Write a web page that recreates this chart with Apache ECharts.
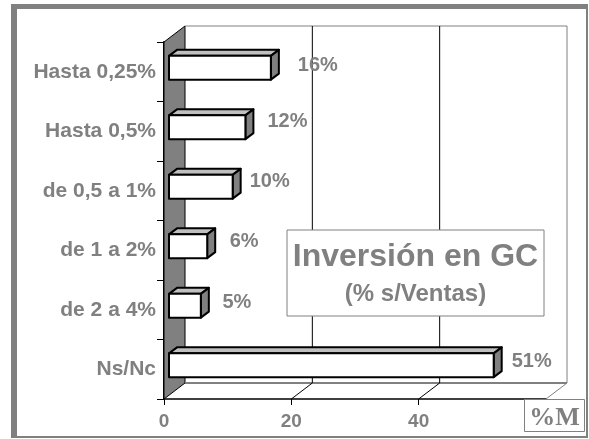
<!DOCTYPE html>
<html>
<head>
<meta charset="utf-8">
<style>
  html, body { margin: 0; padding: 0; background: #fff; }
  #chart { width: 589px; height: 439px; }
</style>
<script src="https://cdn.jsdelivr.net/npm/echarts@6/dist/echarts.min.js"></script>
</head>
<body>
<div id="chart"></div>
<script>
const categories = ['Hasta 0,25%', 'Hasta 0,5%', 'de 0,5 a 1%', 'de 1 a 2%', 'de 2 a 4%', 'Ns/Nc'];
const values = [16, 12, 10, 6, 5, 51];
const valueLabels = ['16%', '12%', '10%', '6%', '5%', '51%'];
const xTicks = [0, 20, 40, 60];

const GRAY = '#808080';
const FONT = '"Liberation Sans", Arial, sans-serif';

// depth of the fake 3d box and of the bars
const WALL_DX = 21, WALL_DY = -16;
const BAR_DX = 8, BAR_DY = -6;

// the labels were placed by hand in the original, so they don't sit evenly
const LABEL_DX = [47, 42, 37, 37, 36, 38];
const LABEL_DY = [-6, -10, -9, -9, -7, -8];

const chart = echarts.init(document.getElementById('chart'));

function line(x1, y1, x2, y2, color, width) {
    return {
        type: 'line',
        shape: { x1, y1, x2, y2 },
        style: { stroke: color, lineWidth: width }
    };
}

function renderBox(params, api) {
    const v = api.value(0);
    const sys = params.coordSys;
    const bottom = sys.y + sys.height;
    const x = api.coord([v, 0])[0];
    const children = [];

    if (v === 0) {
        children.push({
            type: 'polygon',
            shape: { points: [
                [x, sys.y], [x + WALL_DX, sys.y + WALL_DY],
                [x + WALL_DX, bottom + WALL_DY], [x, bottom]
            ] },
            style: { fill: GRAY, stroke: '#000', lineWidth: 1 }
        });
        // back wall edges
        children.push(line(x + WALL_DX, sys.y + WALL_DY, sys.x + sys.width + WALL_DX, sys.y + WALL_DY, GRAY, 1));
        children.push(line(x + WALL_DX, bottom + WALL_DY, sys.x + sys.width + WALL_DX, bottom + WALL_DY, GRAY, 2));
    } else if (v === xTicks[xTicks.length - 1]) {
        children.push(line(x, bottom, x + WALL_DX, bottom + WALL_DY, GRAY, 1));
        children.push(line(x + WALL_DX, sys.y + WALL_DY, x + WALL_DX, bottom + WALL_DY, GRAY, 1));
    } else {
        children.push(line(x, bottom, x + WALL_DX, bottom + WALL_DY, '#000', 1));
        children.push(line(x + WALL_DX, sys.y + WALL_DY, x + WALL_DX, bottom + WALL_DY, '#000', 1));
    }
    return { type: 'group', children };
}

function renderBar(params, api) {
    const end = api.coord([api.value(0), api.value(1)]);
    const start = api.coord([0, api.value(1)]);
    const band = api.size([0, 1])[1];
    const h = band * 0.4;
    const x0 = start[0] + 5;
    const x1 = end[0] + 5;
    const y0 = end[1] - 4 - h / 2;
    const y1 = y0 + h;
    const stroke = { stroke: '#000', lineWidth: 2, lineJoin: 'round' };
    return {
        type: 'group',
        children: [
            {
                type: 'polygon',
                shape: { points: [[x0, y0], [x0 + BAR_DX, y0 + BAR_DY], [x1 + BAR_DX, y0 + BAR_DY], [x1, y0]] },
                style: { fill: '#c0c0c0', ...stroke }
            },
            {
                type: 'polygon',
                shape: { points: [[x1, y0], [x1 + BAR_DX, y0 + BAR_DY], [x1 + BAR_DX, y1 + BAR_DY], [x1, y1]] },
                style: { fill: GRAY, ...stroke }
            },
            {
                type: 'rect',
                shape: { x: x0, y: y0, width: x1 - x0, height: h },
                style: { fill: '#fff', ...stroke }
            },
            {
                type: 'text',
                style: {
                    x: x1 + LABEL_DX[params.dataIndex],
                    y: end[1] + LABEL_DY[params.dataIndex],
                    text: valueLabels[params.dataIndex],
                    fill: GRAY,
                    font: 'bold 20px ' + FONT,
                    align: 'center',
                    verticalAlign: 'middle'
                }
            }
        ]
    };
}

chart.setOption({
    animation: false,
    backgroundColor: '#fff',
    grid: { left: 164, top: 42, width: 382, height: 357, containLabel: false },
    xAxis: {
        type: 'value',
        min: 0,
        max: 60,
        interval: 20,
        splitLine: { show: false },
        axisLine: { show: true, onZero: false, lineStyle: { color: '#000', width: 1.5 } },
        axisTick: { show: true, length: 6, lineStyle: { color: '#000' } },
        axisLabel: {
            margin: 13,
            color: GRAY,
            fontFamily: FONT,
            fontWeight: 'bold',
            fontSize: 19,
            formatter: v => (v === 60 ? '' : v)
        }
    },
    yAxis: {
        type: 'category',
        inverse: true,
        data: categories,
        axisLine: { show: true, lineStyle: { color: '#000', width: 2 } },
        axisTick: { show: true, length: 7, alignWithLabel: false, lineStyle: { color: '#000' } },
        axisLabel: {
            margin: 8,
            color: GRAY,
            fontFamily: FONT,
            fontWeight: 'bold',
            fontSize: 21
        }
    },
    series: [
        {
            type: 'custom',
            silent: true,
            z: 1,
            renderItem: renderBox,
            encode: { x: 0 },
            data: xTicks.map(v => [v])
        },
        {
            type: 'custom',
            silent: true,
            z: 3,
            renderItem: renderBar,
            encode: { x: 0, y: 1 },
            data: values.map((v, i) => [v, i])
        }
    ],
    graphic: [
        // outer frame, heavier on the left and the top
        { type: 'rect', z: 0, shape: { x: 12, y: 5, width: 575, height: 432 }, style: { fill: 'none', stroke: GRAY, lineWidth: 2 } },
        { type: 'rect', z: 0, shape: { x: 11, y: 4, width: 6, height: 434 }, style: { fill: GRAY } },
        { type: 'rect', z: 0, shape: { x: 11, y: 4, width: 577, height: 5 }, style: { fill: GRAY } },
        // title box
        { type: 'rect', z: 10, shape: { x: 287, y: 230, width: 257, height: 86 }, style: { fill: '#fff', stroke: GRAY, lineWidth: 1 } },
        {
            type: 'text', z: 11, x: 415.5, y: 257,
            style: { text: 'Inversión en GC', fill: GRAY, font: 'bold 32px ' + FONT, align: 'center', verticalAlign: 'middle' }
        },
        {
            type: 'text', z: 11, x: 415.5, y: 294,
            style: { text: '(% s/Ventas)', fill: GRAY, font: 'bold 24px ' + FONT, align: 'center', verticalAlign: 'middle' }
        },
        // %M stamp
        { type: 'rect', z: 10, shape: { x: 524.5, y: 399.5, width: 60, height: 32 }, style: { fill: '#fff', stroke: GRAY, lineWidth: 1 } },
        {
            type: 'text', z: 11, x: 554.5, y: 418,
            style: { text: '%M', fill: GRAY, font: 'bold 26px "Liberation Serif", serif', align: 'center', verticalAlign: 'middle' }
        }
    ]
});
</script>
</body>
</html>
